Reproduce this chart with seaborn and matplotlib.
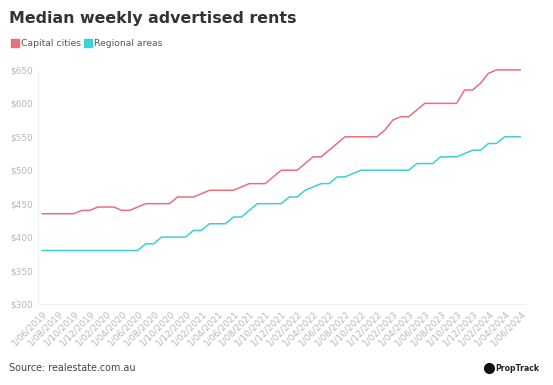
import pandas as pd
import matplotlib.pyplot as plt
import seaborn as sns
from matplotlib.lines import Line2D

sns.set_theme(style='white')
plt.rcParams['font.family'] = ['DejaVu Sans']

# Monthly data, June 2019 to June 2024
months = pd.date_range('2019-06-01', '2024-06-01', freq='MS')

capital = ([435] * 5 + [440] * 2 + [445] * 3 + [440] * 2 + [445] + [450] * 4
           + [460] * 3 + [465] + [470] * 4 + [475] + [480] * 3 + [490]
           + [500] * 3 + [510] + [520] * 2 + [530] + [540] + [550] * 5
           + [560] + [575] + [580] * 2 + [590] + [600] * 5 + [620] * 2
           + [630] + [645] + [650] * 4)

regional = ([380] * 13 + [390] * 2 + [400] * 4 + [410] * 2 + [420] * 3
            + [430] * 2 + [440] + [450] * 4 + [460] * 2 + [470] + [475]
            + [480] * 2 + [490] * 2 + [495] + [500] * 7 + [510] * 3
            + [520] * 3 + [525] + [530] * 2 + [540] * 2 + [550] * 3)

series_names = ['Capital cities', 'Regional areas']
colors = ['#ea6f7c', '#3dd1cf']

tick_step = 2
y_ticks = [300, 350, 400, 450, 500, 550, 600, 650]

df = pd.DataFrame({'idx': range(len(months)),
                   'Capital cities': capital,
                   'Regional areas': regional})
long = df.melt(id_vars='idx', var_name='series', value_name='rent')

fig = plt.figure(figsize=(5.53, 3.85), dpi=100)
ax = fig.add_axes([0.0687, 0.2104, 0.881, 0.608])

sns.lineplot(data=long, x='idx', y='rent', hue='series',
             palette=dict(zip(series_names, colors)), linewidth=1.1,
             legend=False, ax=ax)
for ln in ax.lines:
    ln.set_clip_on(False)

ax.set_xlim(-0.5, 60.6)
ax.set_ylim(300, 650)
ax.set_yticks(y_ticks)
ax.set_yticklabels(['$%d' % v for v in y_ticks])
ticks = list(range(0, len(months), tick_step))
ax.set_xticks(ticks)
ax.set_xticklabels([months[i].strftime('1/%m/%Y') for i in ticks],
                   rotation=45, ha='right', rotation_mode='anchor')
ax.tick_params(axis='both', colors='#b8b8b8', labelsize=6.4, length=0, pad=4)
ax.set_xlabel('')
ax.set_ylabel('')

for side in ['top', 'right']:
    ax.spines[side].set_visible(False)
for side in ['left', 'bottom']:
    ax.spines[side].set_color('#f0f0f0')
    ax.spines[side].set_linewidth(0.8)

fig.text(0.016, 0.952, 'Median weekly advertised rents', fontsize=11.4,
         fontweight='bold', color='#333333', va='center')

handles = [Line2D([], [], marker='s', linestyle='', markersize=5.5,
                  markerfacecolor=c, markeredgecolor=c) for c in colors]
fig.legend(handles, series_names, loc='center left',
           bbox_to_anchor=(0.004, 0.887), ncol=2, frameon=False,
           fontsize=6.7, handletextpad=0.1, columnspacing=0.25,
           handlelength=1.0, labelcolor='#555555')

fig.text(0.016, 0.044, 'Source: realestate.com.au', fontsize=6.9,
         color='#444444', va='center')
fig.text(0.896, 0.044, 'PropTrack', fontsize=5.6, fontweight='bold',
         color='#222222', va='center')
fig.add_artist(Line2D([0.884], [0.044], marker='o', markersize=7,
                      color='#111111', transform=fig.transFigure))

fig.savefig('out.png', dpi=100)
